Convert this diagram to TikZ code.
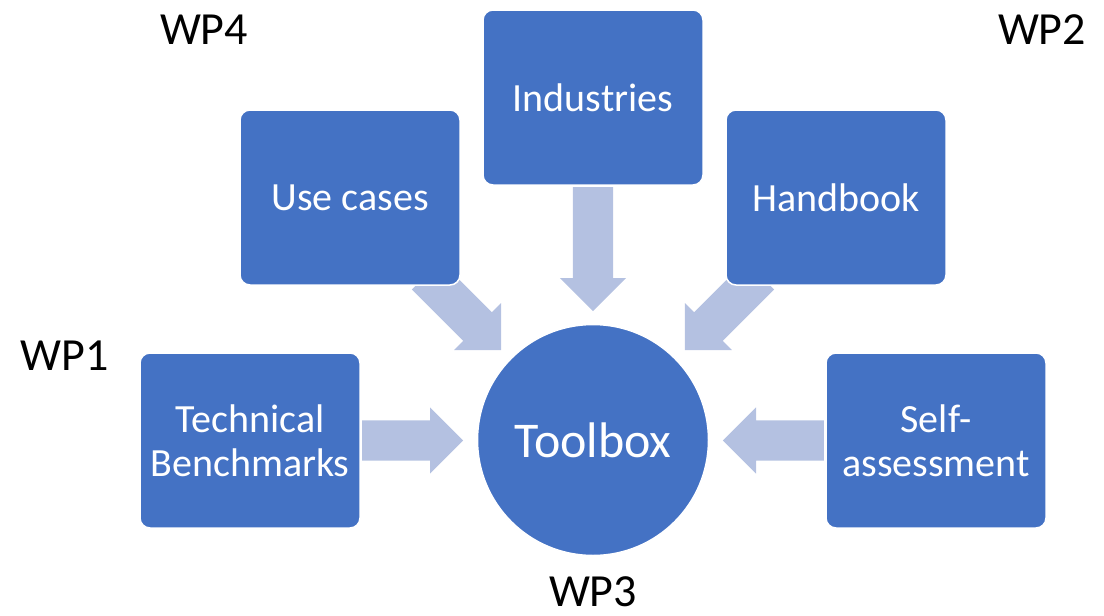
\documentclass[tikz,border=0pt]{standalone}
\usepackage{fontspec}
\setmainfont{Carlito}
\usetikzlibrary{shapes.arrows}
\definecolor{boxblue}{HTML}{4472C4}
\definecolor{arrowblue}{HTML}{B4C1E1}
\tikzset{
  box/.style={draw=white, line width=1.5pt, fill=boxblue, rounded corners=10pt,
    minimum width=220pt, minimum height=175pt, inner sep=0pt, text=white,
    align=center, font=\fontsize{40}{44}\selectfont},
  blockarrow/.style={shape=single arrow, fill=arrowblue, draw=none, anchor=tail,
    inner xsep=0pt, inner ysep=20pt, single arrow head extend=13pt,
    single arrow tip angle=90},
  wp/.style={font=\fontsize{46}{50}\selectfont, text=black, inner sep=0pt}
}
\begin{document}
\begin{tikzpicture}[x=1pt,y=-1pt]
\useasboundingbox (0,0) rectangle (1104,616);
% arrows
\node[blockarrow, minimum height=101pt] (ar) at (362,440.5) {};
\node[blockarrow, minimum height=101pt, rotate=180] (al) at (824,440.5) {};
\node[blockarrow, minimum height=124pt, rotate=-90] (ad) at (593,187) {};
\node[blockarrow, minimum height=106pt, rotate=-45] (adl) at (426,275) {};
\node[blockarrow, minimum height=106pt, rotate=-135] (adr) at (760,275) {};
% boxes
\node[box] (use) at (350,197.5) {Use cases};
\node[box] (ind) at (593,97.5) {Industries};
\node[box] (hand) at (836,197.5) {Handbook};
\node[box] (tech) at (250,440.5) {Technical\\Benchmarks};
\node[box] (self) at (936,440.5) {Self-\\assessment};
\node[draw=white, line width=1.5pt, fill=boxblue, circle, minimum size=231pt, inner sep=0pt,
  text=white, font=\fontsize{50}{54}\selectfont] (tool) at (593,440) {Toolbox};
% labels
\node[wp] (wp4) at (204,30) {WP4};
\node[wp] (wp2) at (1042,30) {WP2};
\node[wp] (wp1) at (65,356) {WP1};
\node[wp] (wp3) at (593,592) {WP3};
\end{tikzpicture}
\end{document}
